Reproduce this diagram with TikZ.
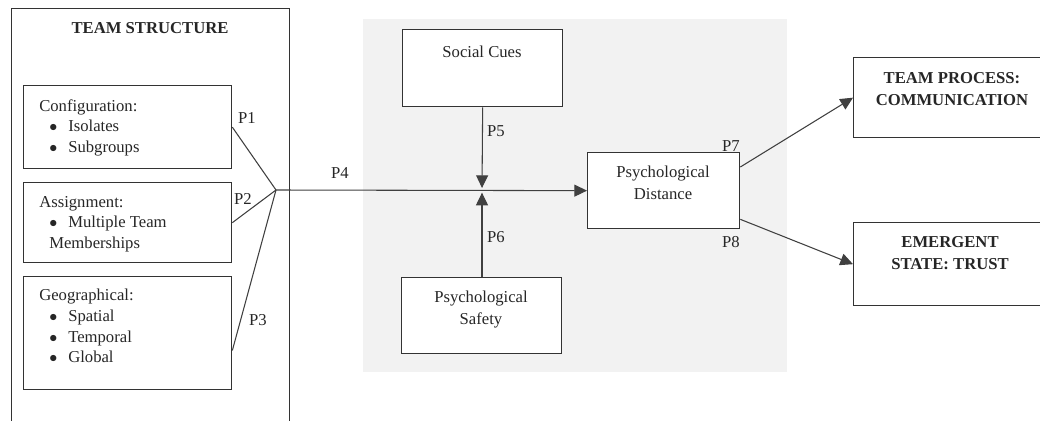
\documentclass[tikz,border=0pt]{standalone}
\usepackage{fontspec}
\setmainfont{Liberation Serif}
\usetikzlibrary{arrows.meta,positioning}
\begin{document}
\begin{tikzpicture}[x=0.75pt, y=-0.75pt]
    % Define styles
    \tikzstyle{box} = [rectangle, anchor=north west, draw=black!80, line width=1pt, inner sep=0pt]
    \tikzstyle{txt} = [inner sep=0pt, anchor=north, align=center, text=black!85, font=\fontsize{12.5}{16.5}\selectfont]
    \tikzstyle{list} = [inner sep=0pt, anchor=north west, align=left, text=black!85, font=\fontsize{12.5}{15.5}\selectfont]
    \tikzstyle{plabel} = [inner sep=0pt, text=black!85, font=\fontsize{12.5}{15}\selectfont]
    \tikzstyle{link} = [draw, line width=0.8pt, black!75]
    \tikzstyle{line} = [draw, -{Triangle[length=9.5pt, width=9pt]}, line width=0.8pt, black!75]
    \newcommand{\itm}{\hspace*{7.5pt}\makebox[14.25pt][l]{$\bullet$}}

    \useasboundingbox (0,0) rectangle (1040,421);
    \clip (0,0) rectangle (1040,421);

    % Place nodes
    \node [box, draw=none, fill=black!5, minimum width=318pt, minimum height=264.75pt] (panel) at (362,18) {};
    \node [box, minimum width=208.5pt, minimum height=330pt] (struct) at (11,8) {};
    \node [txt, font=\fontsize{12.5}{16.5}\selectfont\bfseries] (structtxt) at (150,22) {TEAM STRUCTURE};

    \node [box, minimum width=156pt, minimum height=62.25pt] (config) at (23,85) {};
    \node [list] (configtxt) at (39,99) {Configuration:\\\itm Isolates\\\itm Subgroups};
    \node [box, minimum width=156pt, minimum height=60pt] (assign) at (23,182) {};
    \node [list] (assigntxt) at (39,196) {Assignment:\\\itm Multiple Team\\\hspace*{7.5pt}Memberships};
    \node [box, minimum width=156pt, minimum height=84.75pt] (geo) at (23,276) {};
    \node [list] (geotxt) at (39,289) {Geographical:\\\itm Spatial\\\itm Temporal\\\itm Global};

    \node [box, fill=white, minimum width=120pt, minimum height=57.75pt] (cues) at (402,29) {};
    \node [txt] (cuestxt) at (482,46) {Social Cues};
    \node [box, fill=white, minimum width=120pt, minimum height=57pt] (safety) at (401,277) {};
    \node [txt] (safetytxt) at (481,291) {Psychological\\Safety};
    \node [box, fill=white, minimum width=114pt, minimum height=57pt] (dist) at (587,152) {};
    \node [txt] (disttxt) at (663,166) {Psychological\\Distance};

    \node [box, minimum width=150pt, minimum height=60pt] (comm) at (853,57) {};
    \node [txt, font=\fontsize{12.5}{16.5}\selectfont\bfseries] (commtxt) at (952,72) {TEAM PROCESS:\\COMMUNICATION};
    \node [box, minimum width=150pt, minimum height=62.25pt] (trust) at (853,222) {};
    \node [txt, font=\fontsize{12.5}{16.5}\selectfont\bfseries] (trusttxt) at (950,236) {EMERGENT\\STATE: TRUST};

    \coordinate (hub) at (276,190);
    \coordinate (meet) at (482,190);

    % Draw edges
    \path [link] (config.east) -- (hub);
    \path [link] (assign.east) -- (hub);
    \path [link] ([yshift=-13pt]geo.east) -- (hub);
    \path [line] (hub) -- (dist.west);
    \path [line, shorten >=1.5pt] (cues.south) -- (meet);
    \path [line, shorten >=2pt] (safety.north -| meet) -- (meet);
    \path [line] ([yshift=-11.25pt]dist.north east) -- (comm.west);
    \path [line] ([yshift=7.5pt]dist.south east) -- (trust.west);

    % Proposition labels
    \node [plabel] (p1) at (247,118) {P1};
    \node [plabel] (p2) at (243,199) {P2};
    \node [plabel] (p3) at (258,320) {P3};
    \node [plabel] (p4) at (340,173) {P4};
    \node [plabel] (p5) at (496,131) {P5};
    \node [plabel] (p6) at (496,237) {P6};
    \node [plabel] (p7) at (731,146) {P7};
    \node [plabel] (p8) at (731,242) {P8};
\end{tikzpicture}
\end{document}
